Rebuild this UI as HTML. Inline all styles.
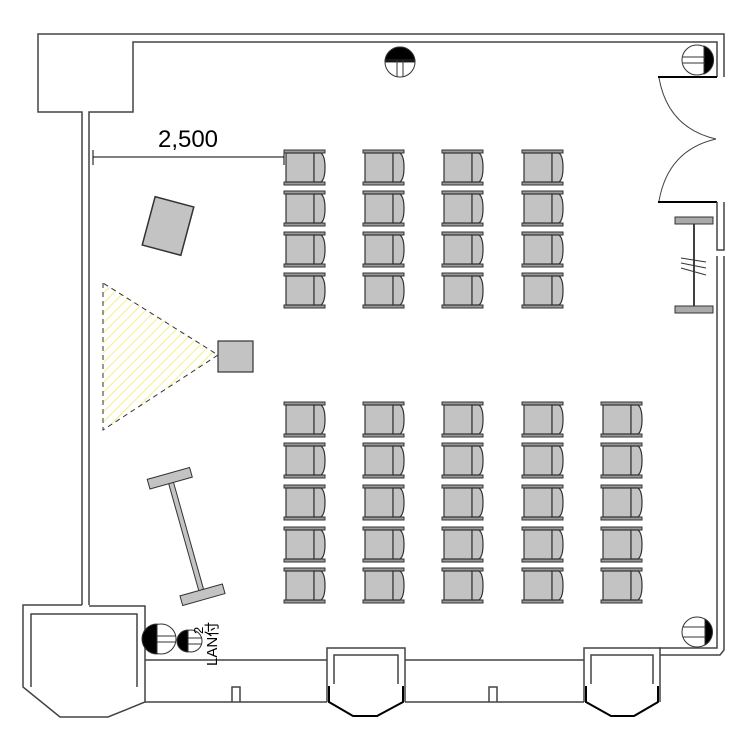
<!DOCTYPE html>
<html><head><meta charset="utf-8"><style>html,body{margin:0;padding:0;background:#fff}svg{display:block}</style></head>
<body>
<svg width="750" height="750" viewBox="0 0 750 750" xmlns="http://www.w3.org/2000/svg">
<defs>
<g id="ch">
<rect x="0" y="0" width="41" height="3" fill="#9a9a9a" stroke="#333" stroke-width="1"/>
<rect x="0" y="32" width="41" height="3" fill="#9a9a9a" stroke="#333" stroke-width="1"/>
<rect x="2" y="3" width="28" height="29" fill="#c3c3c3" stroke="#333" stroke-width="1.2"/>
<path d="M30,3 H37 Q41,6 41,17.5 Q41,29 37,32 H30 Z" fill="#c3c3c3" stroke="#333" stroke-width="1.2"/>
</g>
<pattern id="hatch" width="7" height="7" patternUnits="userSpaceOnUse" patternTransform="rotate(45)">
<line x1="0" y1="0" x2="0" y2="7" stroke="#f4f08a" stroke-width="2"/>
</pattern>
</defs>
<g fill="none" stroke="#444" stroke-width="1.5">
<path d="M82,605 V112 H38 V34 H724 V77"/>
<path d="M89,605 V112 H133 V42 H717 V77"/>
<path d="M658,77 H717" stroke="#000" stroke-width="2"/>
<path d="M658,202 H717" stroke="#000" stroke-width="2"/>
<path d="M659,78 Q668,128 716,139" stroke-width="1"/>
<path d="M716,139 Q668,150 659,201" stroke-width="1"/>
<path d="M717,202 V250 H724 V202"/>
<path d="M717,256 V648 H659"/>
<path d="M724,256 V650 L720,655 H660"/>
<path d="M82,605 H23 V687 L60,717 H108 L145,702 V606 H89"/>
<path d="M31,687 V614 H137 V687"/>
<path d="M145,660 H327 M145,702 H327"/>
<path d="M232,702 V687 H240 V702"/>
<path d="M405,660 H584 M405,702 H584"/>
<path d="M489,702 V687 H497 V702"/>
<path d="M327,702 V648 H405 V702"/>
<path d="M334,684 V655 H398 V684"/>
<path d="M329,686 V702 L353,716 H377 L403,702 V686" stroke="#000" stroke-width="2"/>
<path d="M584,702 V648 H660 V702"/>
<path d="M591,684 V655 H653 V684"/>
<path d="M586,686 V702 L611,716 H634 L658,702 V686" stroke="#000" stroke-width="2"/>
</g>
<g stroke="#000" stroke-width="1">
<line x1="93" y1="157" x2="284" y2="157"/>
<line x1="93" y1="150" x2="93" y2="165"/>
<line x1="284" y1="150" x2="284" y2="165"/>
</g>
<text x="188" y="147" font-family="Liberation Sans, sans-serif" font-size="24" text-anchor="middle" fill="#000">2,500</text>
<g>
<use href="#ch" x="284" y="150"/><use href="#ch" x="363" y="150"/><use href="#ch" x="442" y="150"/><use href="#ch" x="522" y="150"/>
<use href="#ch" x="284" y="191"/><use href="#ch" x="363" y="191"/><use href="#ch" x="442" y="191"/><use href="#ch" x="522" y="191"/>
<use href="#ch" x="284" y="232"/><use href="#ch" x="363" y="232"/><use href="#ch" x="442" y="232"/><use href="#ch" x="522" y="232"/>
<use href="#ch" x="284" y="273"/><use href="#ch" x="363" y="273"/><use href="#ch" x="442" y="273"/><use href="#ch" x="522" y="273"/>
</g>
<g>
<use href="#ch" x="284" y="402"/><use href="#ch" x="363" y="402"/><use href="#ch" x="442" y="402"/><use href="#ch" x="522" y="402"/><use href="#ch" x="601" y="402"/>
<use href="#ch" x="284" y="443"/><use href="#ch" x="363" y="443"/><use href="#ch" x="442" y="443"/><use href="#ch" x="522" y="443"/><use href="#ch" x="601" y="443"/>
<use href="#ch" x="284" y="485"/><use href="#ch" x="363" y="485"/><use href="#ch" x="442" y="485"/><use href="#ch" x="522" y="485"/><use href="#ch" x="601" y="485"/>
<use href="#ch" x="284" y="527"/><use href="#ch" x="363" y="527"/><use href="#ch" x="442" y="527"/><use href="#ch" x="522" y="527"/><use href="#ch" x="601" y="527"/>
<use href="#ch" x="284" y="568"/><use href="#ch" x="363" y="568"/><use href="#ch" x="442" y="568"/><use href="#ch" x="522" y="568"/><use href="#ch" x="601" y="568"/>
</g>
<rect x="-20" y="-25" width="40" height="50" transform="translate(168,226) rotate(15)" fill="#c3c3c3" stroke="#333" stroke-width="1.5"/>
<polygon points="103,283 103,430 218,355" fill="url(#hatch)" stroke="#333" stroke-width="1" stroke-dasharray="5,4"/>
<rect x="218" y="341" width="35" height="31" fill="#c3c3c3" stroke="#333" stroke-width="1.2"/>
<g transform="translate(186,536) rotate(-15.7)">
<rect x="-2.5" y="-60" width="5" height="120" fill="#c3c3c3" stroke="#333" stroke-width="1"/>
<rect x="-22" y="-65" width="44" height="10" fill="#c3c3c3" stroke="#333" stroke-width="1"/>
<rect x="-22" y="56" width="44" height="10" fill="#c3c3c3" stroke="#333" stroke-width="1"/>
</g>
<g stroke="#333">
<line x1="694" y1="220" x2="694" y2="310" stroke="#000" stroke-width="1.5"/>
<rect x="675" y="217" width="38" height="7" fill="#aaa" stroke-width="1"/>
<rect x="675" y="306" width="38" height="7" fill="#aaa" stroke-width="1"/>
<line x1="681" y1="258" x2="706" y2="262" stroke-width="1"/>
<line x1="681" y1="263" x2="706" y2="268" stroke-width="1"/>
<line x1="681" y1="268" x2="706" y2="275" stroke-width="1"/>
</g>
<g stroke="#333" stroke-width="1" fill="#fff">
<circle cx="400" cy="62" r="15"/>
<path d="M385,62 A15,15 0 0 1 415,62 Z" fill="#000"/>
<line x1="385" y1="60" x2="415" y2="60"/><line x1="397" y1="60" x2="397" y2="77"/><line x1="403" y1="60" x2="403" y2="77"/>
<circle cx="697" cy="60" r="15"/>
<path d="M704,46 A15,15 0 0 1 704,74 Z" fill="#000"/>
<line x1="683" y1="57" x2="705" y2="57"/><line x1="683" y1="63" x2="705" y2="63"/>
<circle cx="697" cy="632" r="15"/>
<path d="M705,619 A15,15 0 0 1 705,645 Z" fill="#000"/>
<line x1="683" y1="627" x2="705" y2="627"/><line x1="683" y1="637" x2="705" y2="637"/>
<circle cx="161" cy="639" r="15"/>
<path d="M157,624 A15,15 0 0 0 157,654 Z" fill="#000"/>
<line x1="157" y1="636" x2="176" y2="636"/><line x1="157" y1="642" x2="176" y2="642"/>
<circle cx="191" cy="641" r="11"/>
<path d="M188,630 A11,11 0 0 0 188,652 Z" fill="#000"/>
<line x1="188" y1="638" x2="202" y2="638"/><line x1="188" y1="644" x2="202" y2="644"/>
</g>
<text transform="translate(217,666) rotate(-90)" font-family="Liberation Sans, 'Noto Sans CJK JP', sans-serif" font-size="15" fill="#000">LAN付</text>
<text transform="translate(203,634) rotate(-90)" font-family="Liberation Sans, sans-serif" font-size="13" fill="#000">2</text>
</svg>
</body></html>
